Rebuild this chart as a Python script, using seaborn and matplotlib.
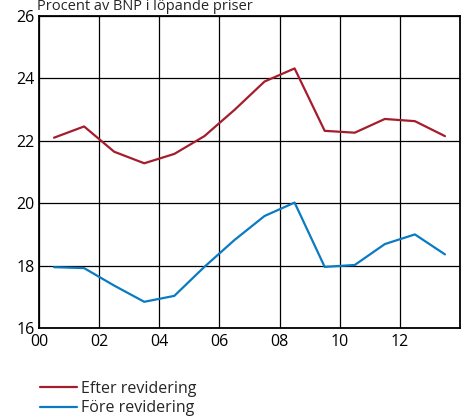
import matplotlib
matplotlib.use("Agg")
import matplotlib.pyplot as plt
import seaborn as sns
import pandas as pd
import numpy as np

years = [0.5, 1.5, 2.5, 3.5, 4.5, 5.5, 6.5, 7.5, 8.5, 9.5, 10.5, 11.5, 12.5, 13.5]
efter = [22.10, 22.46, 21.65, 21.28, 21.58, 22.15, 22.99, 23.90, 24.32, 22.32, 22.26, 22.70, 22.63, 22.15]
fore = [17.95, 17.92, 17.36, 16.84, 17.03, 17.96, 18.82, 19.59, 20.02, 17.96, 18.02, 18.69, 19.00, 18.36]
series_names = ["Efter revidering", "Före revidering"]
xtick_labels = ["00", "02", "04", "06", "08", "10", "12"]
ytick_values = [16, 18, 20, 22, 24, 26]
title = "Procent av BNP i löpande priser"

df = pd.DataFrame({
    "x": years * 2,
    "value": efter + fore,
    "series": [series_names[0]] * len(years) + [series_names[1]] * len(years),
})

sns.set_style("white")
plt.rcParams["font.family"] = ["Open Sans", "DejaVu Sans"]

fig = plt.figure(figsize=(4.67, 4.17), dpi=100)
ax = fig.add_axes([0.0835, 0.2134, 0.9015, 0.7482])

palette = {series_names[0]: "#a51d2d", series_names[1]: "#0a7ac2"}
sns.lineplot(data=df, x="x", y="value", hue="series", palette=palette,
             linewidth=1.6, ax=ax, legend=True)

ax.set_xlim(0, 14)
ax.set_ylim(16, 26)
ax.set_xticks(np.arange(0, 14, 2))
ax.set_xticklabels(xtick_labels)
ax.set_yticks(ytick_values)
ax.set_yticklabels([str(v) for v in ytick_values])
ax.set_xlabel("")
ax.set_ylabel("")
ax.grid(True, color="black", linewidth=0.9)
for s in ax.spines.values():
    s.set_visible(True)
    s.set_color("black")
    s.set_linewidth(1.3)
ax.tick_params(axis="both", labelsize=11.5, colors="black", length=0, pad=4)
ax.tick_params(axis="y", pad=3)

handles, labels = ax.get_legend_handles_labels()
ax.legend(handles, labels, loc="upper left", bbox_to_anchor=(0.086, 0.087),
          bbox_transform=fig.transFigure, frameon=False, fontsize=11.5,
          handlelength=2.3, handletextpad=0.25, labelspacing=0.22,
          borderaxespad=0, borderpad=0)

fig.text(0.08, 0.976, title, fontsize=10.5, va="baseline", ha="left")

fig.savefig("out.png", dpi=100)
